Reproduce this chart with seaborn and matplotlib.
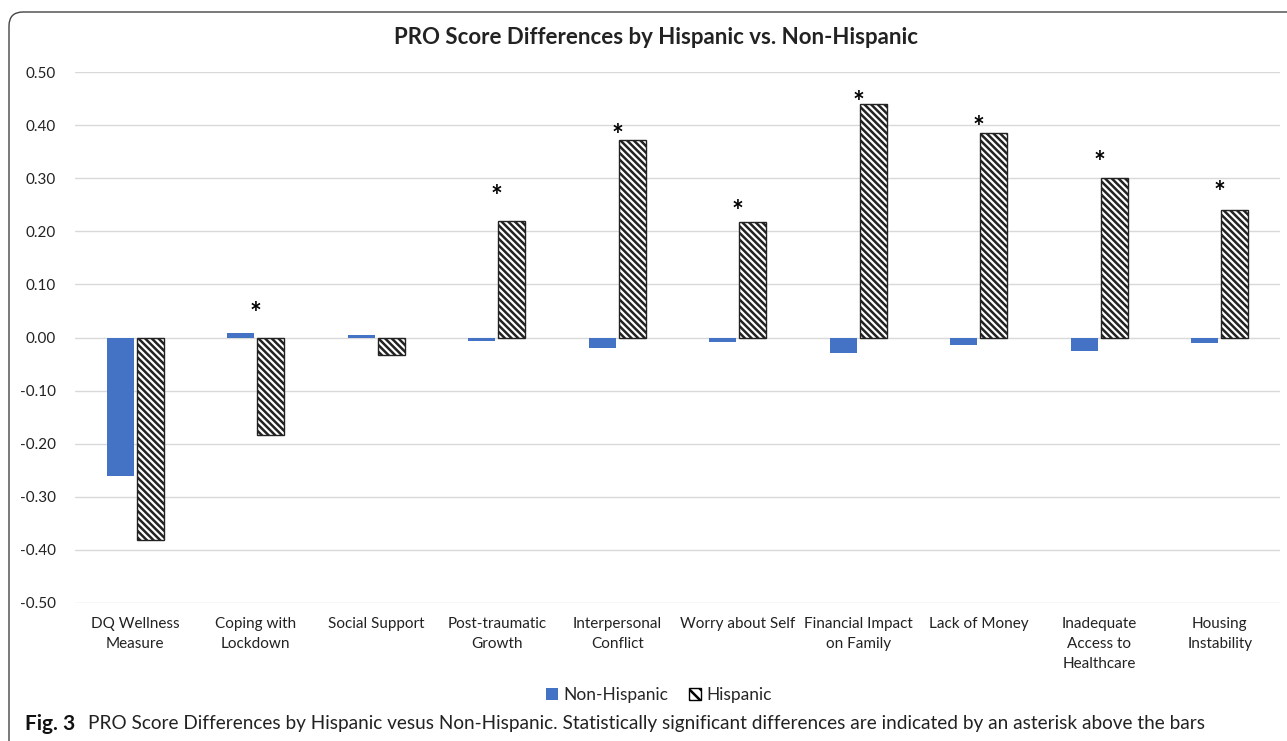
import matplotlib
matplotlib.use("Agg")
import matplotlib.pyplot as plt
from matplotlib.patches import Patch, FancyBboxPatch
from matplotlib.transforms import IdentityTransform
import seaborn as sns
import pandas as pd

# Outcome measures (x-axis categories)
categories = [
    "DQ Wellness\nMeasure", "Coping with\nLockdown", "Social Support",
    "Post-traumatic\nGrowth", "Interpersonal\nConflict", "Worry about Self",
    "Financial Impact\non Family", "Lack of Money", "Inadequate\nAccess to\nHealthcare",
    "Housing\nInstability",
]
groups = ["Non-Hispanic", "Hispanic"]

# Score differences per group
non_hispanic = [-0.261, 0.008, 0.004, -0.007, -0.020, -0.008, -0.029, -0.015, -0.025, -0.010]
hispanic = [-0.381, -0.184, -0.033, 0.219, 0.372, 0.218, 0.440, 0.385, 0.301, 0.240]

# Statistically significant measures and the height of their asterisk
significant = [False, True, False, True, True, True, True, True, True, True]
star_height = [0, 0.044, 0, 0.265, 0.380, 0.237, 0.441, 0.394, 0.328, 0.273]

yticks = [-0.5, -0.4, -0.3, -0.2, -0.1, 0.0, 0.1, 0.2, 0.3, 0.4, 0.5]

BLUE = "#4472C4"
HATCH = "\\" * 5

df = pd.DataFrame({
    "measure": categories * 2,
    "group": [groups[0]] * len(categories) + [groups[1]] * len(categories),
    "value": non_hispanic + hispanic,
})

sns.set_theme(style="white")
plt.rcParams["font.family"] = ["Lato", "DejaVu Sans"]
plt.rcParams["hatch.linewidth"] = 1.8
plt.rcParams["hatch.color"] = "black"

fig = plt.figure(figsize=(12.87, 7.41), dpi=100)
ax = fig.add_axes([75 / 1287, 1 - 603 / 741, 1205 / 1287, 531 / 741])

sns.barplot(data=df, x="measure", y="value", hue="group", order=categories,
            hue_order=groups, palette=[BLUE, "white"], width=0.5, gap=0.1,
            saturation=1, errorbar=None, legend=False, ax=ax, zorder=3)

for p in ax.containers[0]:
    p.set_edgecolor("none")
for p in ax.containers[1]:
    p.set_facecolor("white")
    p.set_edgecolor("#222222")
    p.set_linewidth(1.0)
    p.set_hatch(HATCH)

for i, (sig, h) in enumerate(zip(significant, star_height)):
    if sig:
        ax.text(i, h, "*", ha="center", va="center", fontsize=20,
                fontweight="bold", color="black", zorder=4)

ax.set_xlim(-0.5, len(categories) - 0.5)
ax.set_ylim(-0.5, 0.5)
ax.set_yticks(yticks)
ax.set_yticklabels([f"{v:.2f}" for v in yticks], fontsize=11, color="#222222")
ax.tick_params(axis="y", length=0, pad=14)
ax.tick_params(axis="x", length=0, pad=10, labelsize=11, labelcolor="#222222")
for lbl in ax.get_xticklabels():
    lbl.set_linespacing(1.55)
ax.set_xlabel("")
ax.set_ylabel("")
ax.grid(axis="y", color="#d9d9d9", linewidth=1.0, zorder=0)
ax.grid(axis="x", visible=False)
for s in ax.spines.values():
    s.set_visible(False)

fig.text(656 / 1287, 1 - 37 / 741, "PRO Score Differences by Hispanic vs. Non-Hispanic",
         ha="center", va="center", fontsize=16, fontweight="bold", color="#222222")

handles = [Patch(facecolor=BLUE, edgecolor="none"),
           Patch(facecolor="white", edgecolor="black", hatch="\\" * 3)]
fig.legend(handles, groups, loc="center", bbox_to_anchor=(659 / 1287, 1 - 695 / 741),
           ncol=2, frameon=False, fontsize=12.5, handlelength=0.7, handleheight=0.7,
           handletextpad=0.3, columnspacing=1.2)

fig.text(25 / 1287, 1 - 724 / 741, "Fig. 3", ha="left", va="center",
         fontsize=15, fontweight="bold", color="#111111")
fig.text(88 / 1287, 1 - 724 / 741,
         "PRO Score Differences by Hispanic vesus Non-Hispanic. Statistically significant "
         "differences are indicated by an asterisk above the bars",
         ha="left", va="center", fontsize=13.7, fontweight="normal", color="#222222")

frame = FancyBboxPatch((9, -30), 1320, 741 - 12 + 30, boxstyle="round,pad=0,rounding_size=14",
                       transform=IdentityTransform(), facecolor="none",
                       edgecolor="#444444", linewidth=1.0)
fig.add_artist(frame)

fig.savefig("out.png", dpi=100)
